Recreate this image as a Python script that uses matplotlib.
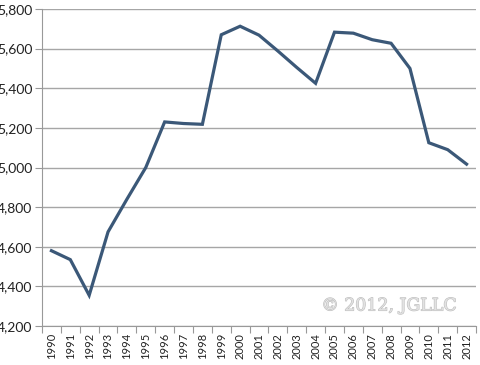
import matplotlib
matplotlib.use("Agg")
import matplotlib.pyplot as plt
import matplotlib.patheffects as pe
import numpy as np

years = [str(y) for y in range(1990, 2013)]
values = [4580, 4535, 4355, 4675, 4840, 5000, 5230, 5222, 5218, 5670, 5713,
          5668, 5588, 5505, 5425, 5683, 5678, 5645, 5627, 5500, 5125, 5090, 5017]
yticks = [4200, 4400, 4600, 4800, 5000, 5200, 5400, 5600, 5800]

fig = plt.figure(figsize=(4.8, 3.65), dpi=100)
ax = fig.add_axes([42/480, 1 - 326/365, 434/480, 317/365])

x = np.arange(len(years))
ax.plot(x, values, color="#3B5878", lw=2.3, solid_joinstyle="miter", zorder=3)

ax.set_xlim(-0.5, len(years) - 0.5)
ax.set_ylim(4200, 5800)
ax.set_yticks(yticks)
ax.set_yticklabels([f"{v:,}" for v in yticks], fontsize=10, family="Lato", color="#222222")
ax.set_xticks(x)
ax.set_xticklabels(years, rotation=90, fontsize=8, family="Lato", color="#222222")
ax.set_xticks(np.arange(-0.5, len(years)), minor=True)
ax.tick_params(axis="x", which="major", length=0, pad=5)
ax.tick_params(axis="x", which="minor", length=5, color="#999999", width=0.8)
ax.tick_params(axis="y", length=5, color="#999999", width=0.8, pad=2)

ax.grid(axis="y", color="#A6A6A6", lw=1.0)
ax.set_axisbelow(True)
for s in ["top", "right"]:
    ax.spines[s].set_visible(False)
for s in ["left", "bottom"]:
    ax.spines[s].set_color("#999999")
    ax.spines[s].set_linewidth(0.8)

fig.text(389/480, 1 - 306/365, "© 2012, JGLLC", ha="center", va="center",
         fontsize=12.5, family="DejaVu Serif", color="#E2E2E2",
         path_effects=[pe.withStroke(linewidth=0.8, foreground="#BDBDBD")])

fig.savefig("out.png", dpi=100)
